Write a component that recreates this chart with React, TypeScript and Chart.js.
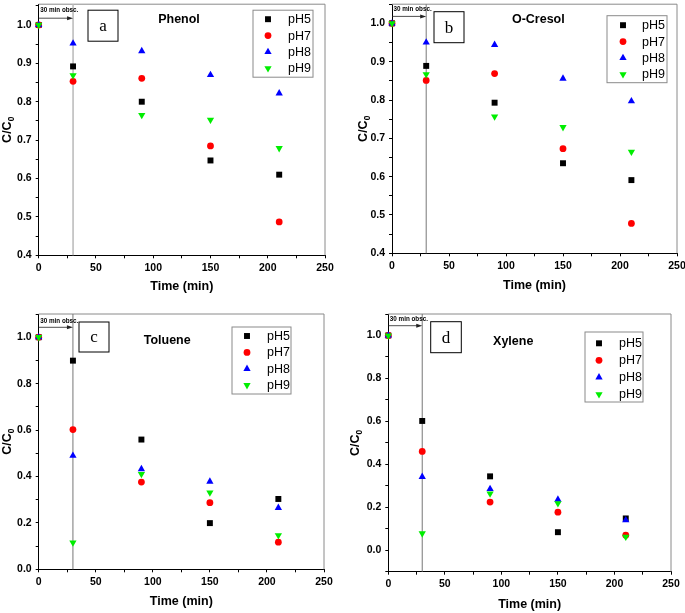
import React, { useEffect, useRef } from "react";
import { Chart, registerables } from "chart.js";

Chart.register(...registerables);

const FONT = "'Liberation Sans', Arial, Helvetica, sans-serif";
const SERIF = "'Liberation Serif', 'Times New Roman', serif";

// ---------- data ----------
const timeMin = [0, 30, 90, 150, 210];
const seriesNames = ["pH5", "pH7", "pH8", "pH9"];
const xTitle = "Time (min)";
const yTitleMain = "C/C";
const yTitleSub = "0";
const obsText = "30 min obsc.";
const obsTime = 30;

const phenolPH5 = [1.0, 0.892, 0.8, 0.647, 0.61];
const phenolPH7 = [1.0, 0.853, 0.861, 0.685, 0.487];
const phenolPH8 = [1.0, 0.952, 0.932, 0.87, 0.822];
const phenolPH9 = [1.0, 0.869, 0.765, 0.753, 0.679];

const cresolPH5 = [1.0, 0.889, 0.793, 0.635, 0.591];
const cresolPH7 = [1.0, 0.851, 0.869, 0.673, 0.478];
const cresolPH8 = [1.0, 0.95, 0.944, 0.856, 0.797];
const cresolPH9 = [1.0, 0.867, 0.757, 0.729, 0.665];

const toluenePH5 = [1.0, 0.899, 0.559, 0.199, 0.303];
const toluenePH7 = [1.0, 0.602, 0.376, 0.287, 0.117];
const toluenePH8 = [1.0, 0.49, 0.432, 0.378, 0.265];
const toluenePH9 = [1.0, 0.115, 0.41, 0.331, 0.146];

const xylenePH5 = [1.0, 0.602, 0.344, 0.084, 0.148];
const xylenePH7 = [1.0, 0.46, 0.224, 0.177, 0.07];
const xylenePH8 = [1.0, 0.342, 0.285, 0.236, 0.14];
const xylenePH9 = [1.0, 0.078, 0.264, 0.218, 0.062];

// ---------- styles ----------
const seriesStyle = [
  { color: "#000000", pointStyle: "rect", radius: 4.2, rotation: 0 },
  { color: "#ff0000", pointStyle: "circle", radius: 3.4, rotation: 0 },
  { color: "#0000ff", pointStyle: "triangle", radius: 4.2, rotation: 0 },
  { color: "#00ee00", pointStyle: "triangle", radius: 4.2, rotation: 180 },
];

type PanelCfg = {
  letter: string;
  title: string;
  series: number[][];
  yMin: number;
  yMax: number;
  yStep: number;
  yMajor: number;
  canvas: { left: number; top: number; w: number; h: number };
  yAxisW: number;
  padTop: number;
  padRight: number;
  xAxisH: number;
  xTitlePad: number;
  box: { x: number; y: number; w: number; h: number };
  titlePos: { x: number; y: number };
  legend: { x: number; y: number; w: number; h: number; mx: number; tx: number; r0: number; gap: number };
  obs: { ty: number; ay: number };
  vline: { color: string; width: number };
  yTitleX: number;
};

// legend r0 = first row centre measured from the chart-area top
const panels: PanelCfg[] = [
  {
    letter: "a",
    title: "Phenol",
    series: [phenolPH5, phenolPH7, phenolPH8, phenolPH9],
    yMin: 0.4, yMax: 1.054, yStep: 0.05, yMajor: 0.1,
    canvas: { left: 0, top: 0, w: 342, h: 306 },
    yAxisW: 38.7, padTop: 1, padRight: 17, xAxisH: 50.7, xTitlePad: 11.5,
    box: { x: 49.3, y: 6, w: 30, h: 31 },
    titlePos: { x: 140.3, y: 15.2 },
    legend: { x: 214.3, y: 6, w: 60, h: 67, mx: 229.3, tx: 249.3, r0: 15, gap: 16.4 },
    obs: { ty: 5.7, ay: 14 },
    vline: { color: "#bdbdbd", width: 1.6 },
    yTitleX: -32.4,
  },
  {
    letter: "b",
    title: "O-Cresol",
    series: [cresolPH5, cresolPH7, cresolPH8, cresolPH9],
    yMin: 0.4, yMax: 1.05, yStep: 0.05, yMajor: 0.1,
    canvas: { left: 342, top: 0, w: 343, h: 306 },
    yAxisW: 50, padTop: 0.5, padRight: 8, xAxisH: 52.7, xTitlePad: 12.8,
    box: { x: 42, y: 7.5, w: 30, h: 31 },
    titlePos: { x: 146.3, y: 15.7 },
    legend: { x: 215, y: 11.5, w: 60, h: 67, mx: 231, tx: 250, r0: 21, gap: 16.4 },
    obs: { ty: 5.5, ay: 12.2 },
    vline: { color: "#777777", width: 1 },
    yTitleX: -30,
  },
  {
    letter: "c",
    title: "Toluene",
    series: [toluenePH5, toluenePH7, toluenePH8, toluenePH9],
    yMin: 0, yMax: 1.1, yStep: 0.1, yMajor: 0.2,
    canvas: { left: 0, top: 306, w: 342, h: 307 },
    yAxisW: 38.7, padTop: 8, padRight: 18, xAxisH: 43.7, xTitlePad: 3.8,
    box: { x: 40.3, y: 8, w: 30, h: 30 },
    titlePos: { x: 128.5, y: 26.7 },
    legend: { x: 193.3, y: 13, w: 59, h: 67, mx: 208.3, tx: 228.3, r0: 22, gap: 16.4 },
    obs: { ty: 7.7, ay: 13.3 },
    vline: { color: "#777777", width: 1 },
    yTitleX: -32,
  },
  {
    letter: "d",
    title: "Xylene",
    series: [xylenePH5, xylenePH7, xylenePH8, xylenePH9],
    yMin: -0.1, yMax: 1.1, yStep: 0.1, yMajor: 0.2,
    canvas: { left: 342, top: 306, w: 343, h: 307 },
    yAxisW: 46.3, padTop: 8, padRight: 14, xAxisH: 41.3, xTitlePad: 0.5,
    box: { x: 42.4, y: 7.7, w: 30.6, h: 31 },
    titlePos: { x: 124.9, y: 28 },
    legend: { x: 196.7, y: 18, w: 58, h: 70, mx: 210.7, tx: 230.7, r0: 29.3, gap: 17 },
    obs: { ty: 5.3, ay: 11.7 },
    vline: { color: "#777777", width: 1 },
    yTitleX: -33.8,
  },
];

function drawMarker(ctx: CanvasRenderingContext2D, st: any, x: number, y: number) {
  ctx.save();
  ctx.fillStyle = st.color;
  ctx.beginPath();
  const r = st.radius;
  if (st.pointStyle === "rect") {
    const s = r * Math.SQRT1_2;
    ctx.rect(x - s, y - s, 2 * s, 2 * s);
  } else if (st.pointStyle === "circle") {
    ctx.arc(x, y, r, 0, Math.PI * 2);
  } else {
    let rad = (st.rotation * Math.PI) / 180;
    for (let k = 0; k < 3; k++) {
      const px = x + Math.sin(rad) * r;
      const py = y - Math.cos(rad) * r;
      if (k === 0) ctx.moveTo(px, py);
      else ctx.lineTo(px, py);
      rad += (2 * Math.PI) / 3;
    }
    ctx.closePath();
  }
  ctx.fill();
  ctx.restore();
}

function makeDecor(p: PanelCfg) {
  return {
    id: "panelDecor" + p.letter,
    beforeDatasetsDraw(chart: any) {
      const { ctx, chartArea: ca, scales } = chart;
      ctx.save();
      ctx.strokeStyle = "#8a8a8a";
      ctx.lineWidth = 1;
      ctx.beginPath();
      ctx.moveTo(ca.left, ca.top);
      ctx.lineTo(ca.right, ca.top);
      ctx.lineTo(ca.right, ca.bottom);
      ctx.stroke();
      const xv = scales.x.getPixelForValue(obsTime);
      ctx.strokeStyle = p.vline.color;
      ctx.lineWidth = p.vline.width;
      ctx.beginPath();
      ctx.moveTo(xv, ca.top);
      ctx.lineTo(xv, ca.bottom);
      ctx.stroke();
      ctx.restore();
    },
    afterDatasetsDraw(chart: any) {
      const { ctx, chartArea: ca, scales } = chart;
      ctx.save();
      const x0 = scales.x.getPixelForValue(0);
      const x1 = scales.x.getPixelForValue(obsTime);
      const ay = ca.top + p.obs.ay;
      ctx.strokeStyle = "#222";
      ctx.fillStyle = "#222";
      ctx.lineWidth = 0.8;
      ctx.beginPath();
      ctx.moveTo(x0, ay);
      ctx.lineTo(x1 - 4, ay);
      ctx.stroke();
      ctx.beginPath();
      ctx.moveTo(x1, ay);
      ctx.lineTo(x1 - 6, ay - 2);
      ctx.lineTo(x1 - 6, ay + 2);
      ctx.closePath();
      ctx.fill();
      ctx.fillStyle = "#000";
      ctx.font = "bold 6.3px 'Liberation Sans Narrow', " + FONT;
      ctx.textAlign = "left";
      ctx.textBaseline = "middle";
      ctx.fillText(obsText, x0 + 1.5, ca.top + p.obs.ty);

      ctx.strokeStyle = "#000";
      ctx.lineWidth = 1;
      ctx.fillStyle = "#fff";
      ctx.fillRect(ca.left + p.box.x, ca.top + p.box.y, p.box.w, p.box.h);
      ctx.strokeRect(ca.left + p.box.x, ca.top + p.box.y, p.box.w, p.box.h);
      ctx.fillStyle = "#000";
      ctx.font = "17px " + SERIF;
      ctx.textAlign = "center";
      ctx.textBaseline = "middle";
      ctx.fillText(p.letter, ca.left + p.box.x + p.box.w / 2, ca.top + p.box.y + p.box.h / 2 + 1);

      ctx.font = "bold 12.5px " + FONT;
      ctx.fillText(p.title, ca.left + p.titlePos.x, ca.top + p.titlePos.y);

      const L = p.legend;
      ctx.fillStyle = "#fff";
      ctx.fillRect(ca.left + L.x, ca.top + L.y, L.w, L.h);
      ctx.strokeStyle = "#8a8a8a";
      ctx.strokeRect(ca.left + L.x, ca.top + L.y, L.w, L.h);
      chart.data.datasets.forEach((ds: any, i: number) => {
        const yy = ca.top + L.r0 + i * L.gap;
        drawMarker(ctx, seriesStyle[i], ca.left + L.mx, yy);
        ctx.fillStyle = "#000";
        ctx.font = "12.5px " + FONT;
        ctx.textAlign = "left";
        ctx.textBaseline = "middle";
        ctx.fillText(ds.label, ca.left + L.tx, yy + 0.5);
      });
      ctx.restore();
    },
    afterDraw(chart: any) {
      const { ctx, chartArea: ca } = chart;
      ctx.save();
      const cx = ca.left + p.yTitleX;
      const cy = (ca.top + ca.bottom) / 2;
      ctx.translate(cx, cy);
      ctx.rotate(-Math.PI / 2);
      ctx.font = "bold 12.5px " + FONT;
      const mw = ctx.measureText(yTitleMain).width;
      ctx.font = "bold 8.5px " + FONT;
      const sw = ctx.measureText(yTitleSub).width;
      const total = mw + sw;
      ctx.fillStyle = "#000";
      ctx.textAlign = "left";
      ctx.textBaseline = "alphabetic";
      ctx.font = "bold 12.5px " + FONT;
      ctx.fillText(yTitleMain, -total / 2, 4.5);
      ctx.font = "bold 8.5px " + FONT;
      ctx.fillText(yTitleSub, -total / 2 + mw, 7.5);
      ctx.restore();
    },
  };
}

function isMajor(v: number, step: number) {
  const q = v / step;
  return Math.abs(q - Math.round(q)) < 1e-6;
}

function Panel({ p }: { p: PanelCfg }) {
  const ref = useRef<HTMLCanvasElement | null>(null);
  useEffect(() => {
    if (!ref.current) return;
    const datasets = p.series.map((vals, i) => ({
      label: seriesNames[i],
      data: timeMin.map((t, j) => ({ x: t, y: vals[j] })),
      backgroundColor: seriesStyle[i].color,
      borderColor: seriesStyle[i].color,
      pointBackgroundColor: seriesStyle[i].color,
      pointBorderColor: seriesStyle[i].color,
      pointStyle: seriesStyle[i].pointStyle,
      pointRadius: seriesStyle[i].radius,
      pointRotation: seriesStyle[i].rotation,
      pointBorderWidth: 0,
      showLine: false,
      order: 4 - i,
      clip: false as any,
    }));
    const tickFont = { family: FONT, size: 10.5, weight: "bold" as const };
    const chart = new Chart(ref.current, {
      type: "scatter",
      data: { datasets },
      options: {
        responsive: false,
        animation: false,
        events: [],
        layout: { padding: { top: p.padTop, right: p.padRight, left: 0, bottom: 0 } },
        plugins: { legend: { display: false }, tooltip: { enabled: false }, title: { display: false } },
        scales: {
          x: {
            type: "linear",
            min: 0,
            max: 250,
            afterFit: (s: any) => {
              s.height = p.xAxisH;
              s.paddingLeft = 0;
              s.paddingRight = 0;
            },
            ticks: {
              stepSize: 25,
              autoSkip: false,
              maxRotation: 0,
              minRotation: 0,
              includeBounds: false,
              padding: 3.4,
              color: "#000",
              font: tickFont,
              callback: (v: any) => (isMajor(Number(v), 50) ? String(Math.round(Number(v))) : ""),
            },
            grid: { display: true, drawOnChartArea: false, drawTicks: true, tickLength: 3, tickColor: "#000", tickWidth: 1 },
            border: { display: true, color: "#000", width: 1 },
            title: {
              display: true,
              text: xTitle,
              color: "#000",
              font: { family: FONT, size: 12.5, weight: "bold" },
              padding: { top: 0, bottom: p.xTitlePad },
            },
          },
          y: {
            type: "linear",
            min: p.yMin,
            max: p.yMax,
            afterFit: (s: any) => {
              s.width = p.yAxisW;
              s.paddingTop = 0;
              s.paddingBottom = 0;
            },
            ticks: {
              stepSize: p.yStep,
              autoSkip: false,
              includeBounds: false,
              padding: 4,
              color: "#000",
              font: tickFont,
              callback: (v: any) => (isMajor(Number(v), p.yMajor) ? Number(v).toFixed(1) : ""),
            },
            grid: { display: true, drawOnChartArea: false, drawTicks: true, tickLength: 3, tickColor: "#000", tickWidth: 1 },
            border: { display: true, color: "#000", width: 1 },
            title: { display: false },
          },
        },
      } as any,
      plugins: [makeDecor(p)],
    });
    return () => chart.destroy();
  }, [p]);
  return (
    <canvas
      ref={ref}
      width={p.canvas.w}
      height={p.canvas.h}
      style={{
        position: "absolute",
        left: p.canvas.left,
        top: p.canvas.top,
        width: p.canvas.w,
        height: p.canvas.h,
        display: "block",
      }}
    />
  );
}

export default function App() {
  return (
    <div
      style={{
        position: "fixed",
        left: 0,
        top: 0,
        width: 685,
        height: 613,
        background: "#fff",
        overflow: "hidden",
      }}
    >
      {panels.map((p) => (
        <Panel key={p.letter} p={p} />
      ))}
    </div>
  );
}
